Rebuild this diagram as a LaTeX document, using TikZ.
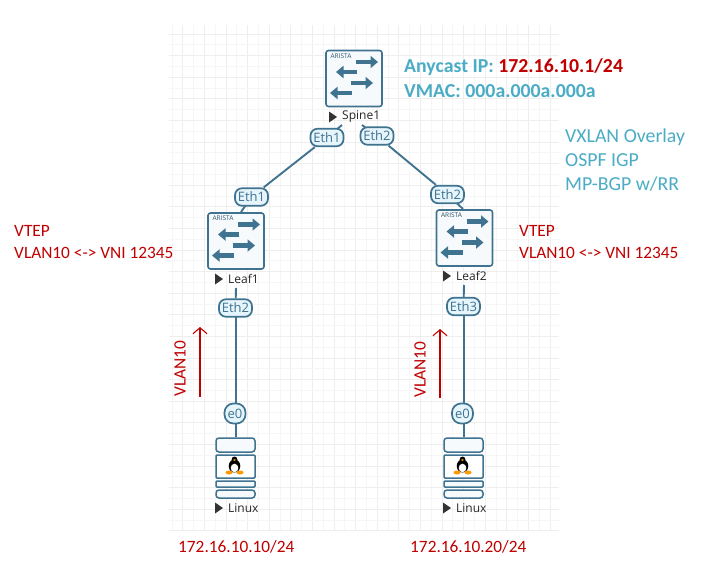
\documentclass[tikz,border=0pt]{standalone}
\usepackage{fontspec}
\setmainfont{Carlito}
\setsansfont{Open Sans}
\usetikzlibrary{arrows.meta}
\definecolor{ln}{HTML}{3F7390}
\definecolor{ifill}{HTML}{E6F4FB}
\definecolor{boxf}{HTML}{F6FAFD}
\definecolor{tealx}{HTML}{4BACC6}
\definecolor{redx}{HTML}{C00000}
\definecolor{gridc}{HTML}{EEEEEE}
\definecolor{gridl}{HTML}{F6F6F6}
\newcommand{\swicon}[1]{%
 \begin{scope}[shift={(#1)}]
  \draw[ln,line width=1.6pt,fill=boxf,rounded corners=2.5pt] (-28,-28) rectangle (28,28);
  \node[font=\fontsize{6.5}{7}\selectfont\sffamily,text=ln!70!black,inner sep=0] at (-13,-22.5) {ARISTA};
  \foreach \xa/\xb/\yy in {2/24/-16.5,3/-18/-6.5,-3/19/4.5,-2/-24/14.5}{
   \draw[ln,line width=4.5pt,-{Triangle[width=12pt,length=7.5pt]}] (\xa,\yy) -- (\xb,\yy);}
 \end{scope}}
\newcommand{\linicon}[1]{%
 \begin{scope}[shift={(#1)}]
  \draw[ln,line width=1.5pt,fill=boxf,rounded corners=3pt] (-19.5,-31) rectangle (19.5,-17);
  \draw[ln,line width=1.5pt,fill=white,rounded corners=1pt] (-19.5,-14) rectangle (19.5,9);
  \draw[ln,line width=1.5pt,fill=boxf,rounded corners=1pt] (-19.5,12) rectangle (19.5,18);
  \draw[ln,line width=1.5pt,fill=boxf,rounded corners=3pt] (-19.5,21) rectangle (19.5,29);
  \fill[black] (-1,-3) ellipse (5.8 and 6.5);
  \fill[black] (-1,-9) ellipse (3 and 3.5);
  \fill[white] (-1,-1) ellipse (3.8 and 4.3);
  \fill[orange!80!yellow] (-1,-9) ellipse (1.5 and .8);
  \fill[orange!80!yellow] (-6.5,3.5) ellipse (3.5 and 2) (4.5,3.5) ellipse (3.5 and 2);
 \end{scope}}
\tikzset{
 iface/.style={draw=ln,line width=1.7pt,fill=ifill,rounded corners=7pt,minimum height=17.5pt,minimum width=33pt,inner sep=0,text=ln,font=\fontsize{13}{14}\selectfont\sffamily},
 ifacesm/.style={iface,minimum width=21pt,minimum height=20pt,rounded corners=9pt,font=\fontsize{13}{14}\selectfont\sffamily},
 link/.style={ln,line width=1.9pt},
 devlabel/.style={font=\fontsize{12}{13}\selectfont\sffamily,text=black!85,inner sep=0,anchor=west},
 tri/.style={fill=black!80},
 redtxt/.style={text=redx,font=\fontsize{17.3}{20}\selectfont,inner sep=0,anchor=west,align=left},
 tealtxt/.style={text=tealx,font=\fontsize{19.8}{24}\selectfont,inner sep=0,anchor=west,align=left}
}
\begin{document}
\begin{tikzpicture}[x=1pt,y=-1pt]
\useasboundingbox (0,0) rectangle (708,565);
\fill[white] (0,0) rectangle (708,565);
\foreach \i in {0,2,...,34}{\draw[gridl,line width=1pt] (172+\i*10.8,25) -- (172+\i*10.8,531);}
\foreach \i in {1,3,...,35}{\draw[gridc,line width=1pt] (172+\i*10.8,25) -- (172+\i*10.8,531);}
\foreach \i in {0,2,...,46}{\draw[gridc,line width=1pt] (169,34+\i*10.8) -- (559,34+\i*10.8);}
\foreach \i in {1,3,...,45}{\draw[gridl,line width=1pt] (169,34+\i*10.8) -- (559,34+\i*10.8);}
\swicon{354,78.5}
\swicon{236,241}
\swicon{464.5,238}
\linicon{235.5,469}
\linicon{463.5,469}
\coordinate (sp1) at (342,125);
\coordinate (sp2) at (362,125);
\coordinate (lf1up) at (241,212);
\coordinate (lf2up) at (463,209);
\coordinate (lf1dn) at (236,288);
\coordinate (lf2dn) at (464,285);
\coordinate (lx1up) at (236,437);
\coordinate (lx2up) at (464,437);
\draw[link] (327,137.5) -- (sp1);
\draw[link] (377,136) -- (sp2);
\draw[link] (251.5,197) -- (lf1up);
\draw[link] (447.5,194.5) -- (lf2up);
\node[iface] (se1) at (327,137.5) {Eth1};
\node[iface] (se2) at (377,136) {Eth2};
\node[iface] (le1) at (251.5,197) {Eth1};
\node[iface] (re2) at (447.5,194.5) {Eth2};
\node[iface] (le2) at (235.5,308) {Eth2};
\node[iface] (re3) at (463.5,306.5) {Eth3};
\node[ifacesm] (e1) at (235,413.5) {e0};
\node[ifacesm] (e2) at (462.5,413.5) {e0};
\draw[link] (se1) -- (le1);
\draw[link] (se2) -- (re2);
\draw[link] (le2) -- (lf1dn);
\draw[link] (re3) -- (lf2dn);
\draw[link] (236,317) -- (e1.north -| 236,0);
\draw[link] (464,316) -- (e2.north -| 464,0);
\draw[link] (e1.south -| 236,0) -- (lx1up);
\draw[link] (e2.south -| 464,0) -- (lx2up);
\foreach \x/\y/\t in {329/117/Spine1,215/279/Leaf1,443/276/Leaf2,215/508/Linux,443/508/Linux}{
 \fill[tri] (\x,\y-5.5) -- (\x+8,\y) -- (\x,\y+5.5) -- cycle;
 \node[devlabel] at (\x+13,\y) {\t};}
\node[tealtxt,font=\fontsize{19.8}{24}\selectfont\bfseries] (any) at (404,67) {Anycast IP: \textcolor{redx}{172.16.10.1/24}};
\node[tealtxt,font=\fontsize{19.8}{24}\selectfont\bfseries] (vm) at (404,91) {VMAC: 000a.000a.000a};
\node[tealtxt] (ov) at (565,160) {VXLAN Overlay\\OSPF IGP\\MP-BGP w/RR};
\node[redtxt] (v1) at (14,231) {VTEP};
\node[redtxt] (v1b) at (14,253) {VLAN10 <-> VNI 12345};
\node[redtxt] (v2) at (519,231) {VTEP};
\node[redtxt] (v2b) at (519,253) {VLAN10 <-> VNI 12345};
\node[redtxt] (ip1) at (178,547) {172.16.10.10/24};
\node[redtxt] (ip2) at (410,547) {172.16.10.20/24};
\node[redtxt,rotate=90,anchor=center] (vl1) at (180,368.5) {VLAN10};
\node[redtxt,rotate=90,anchor=center] (vl2) at (420,369.5) {VLAN10};
\coordinate (a1s) at (200,397);\coordinate (a1e) at (200,327);
\coordinate (a2s) at (440,398);\coordinate (a2e) at (440,329);
\draw[redx,line width=1.1pt,-{Straight Barb[length=6pt,width=14pt,line width=1.1pt]}] (a1s) -- (a1e);
\draw[redx,line width=1.1pt,-{Straight Barb[length=6pt,width=14pt,line width=1.1pt]}] (a2s) -- (a2e);
\end{tikzpicture}
\end{document}
